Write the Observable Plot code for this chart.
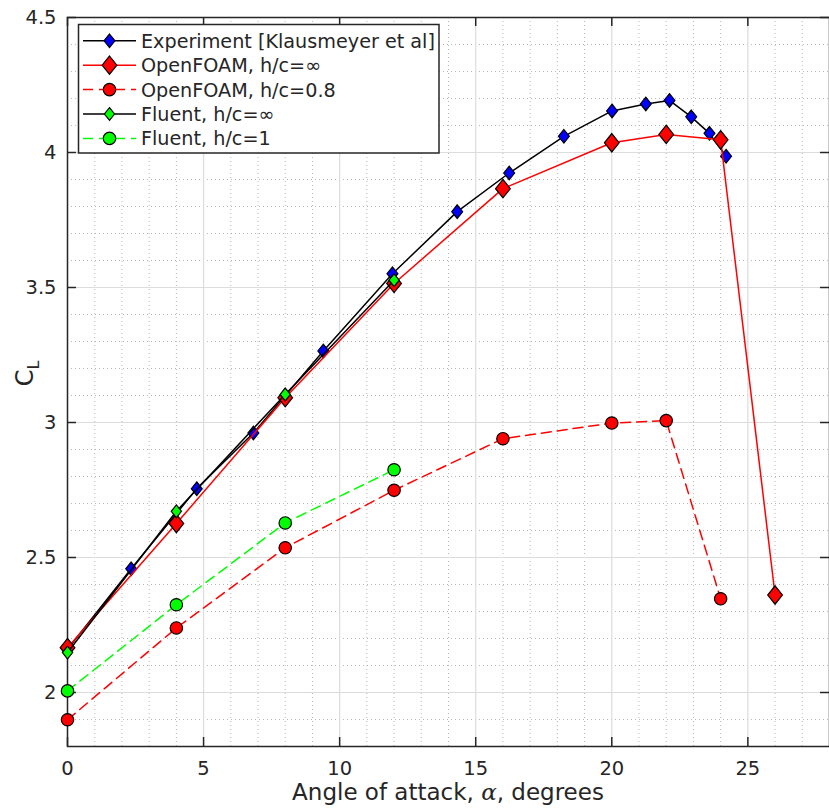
<!DOCTYPE html>
<html>
<head>
<meta charset="utf-8">
<script src="https://cdn.jsdelivr.net/npm/d3@7"></script>
<script src="https://cdn.jsdelivr.net/npm/@observablehq/plot@0.6"></script>
<style>
  html, body { margin: 0; padding: 0; background: white; }
  #chart svg { display: block; }
</style>
</head>
<body>
<div id="chart"></div>
<script>
// ---------- data ----------
const expAlpha = [0, 2.34, 4.75, 6.83, 9.40, 11.94, 14.32, 16.23, 18.24, 20.01, 21.25, 22.12, 22.92, 23.59, 24.20];
const expCL    = [2.16, 2.458, 2.755, 2.961, 3.265, 3.551, 3.781, 3.924, 4.060, 4.154, 4.180, 4.193, 4.132, 4.071, 3.986];

const ofInfAlpha = [0, 4, 8, 12, 16, 20, 22, 24, 26];
const ofInfCL    = [2.166, 2.626, 3.092, 3.515, 3.866, 4.036, 4.067, 4.047, 2.361];

const of08Alpha = [0, 4, 8, 12, 16, 20, 22, 24];
const of08CL    = [1.899, 2.239, 2.536, 2.749, 2.940, 2.998, 3.007, 2.347];

const flInfAlpha = [0, 4, 8, 12];
const flInfCL    = [2.148, 2.671, 3.104, 3.527];

const fl1Alpha = [0, 4, 8, 12];
const fl1CL    = [2.006, 2.325, 2.628, 2.825];

const seriesNames = [
  "Experiment [Klausmeyer et al]",
  "OpenFOAM, h/c=\u221E",
  "OpenFOAM, h/c=0.8",
  "Fluent, h/c=\u221E",
  "Fluent, h/c=1"
];

const xTicks = [0, 5, 10, 15, 20, 25];
const yTicks = [2, 2.5, 3, 3.5, 4, 4.5];
const xMinor = [1,2,3,4,6,7,8,9,11,12,13,14,16,17,18,19,21,22,23,24,26,27];
const yMinor = [1.9,2.1,2.2,2.3,2.4,2.6,2.7,2.8,2.9,3.1,3.2,3.3,3.4,3.6,3.7,3.8,3.9,4.1,4.2,4.3,4.4];
const xDomain = [0, 28];
const yDomain = [1.8, 4.5];

const xTitle = ["Angle of attack, ", "\u03B1", ", degrees"];
const yTitle = ["C", "L"];

// ---------- helpers ----------
const zip = (xs, ys) => xs.map((x, i) => ({x, y: ys[i]}));
const expData = zip(expAlpha, expCL);
const ofInf = zip(ofInfAlpha, ofInfCL);
const of08 = zip(of08Alpha, of08CL);
const flInf = zip(flInfAlpha, flInfCL);
const fl1 = zip(fl1Alpha, fl1CL);

// MATLAB-like diamond (slightly taller than wide)
const matDiamond = {
  draw(ctx, size) {
    const h = Math.sqrt(size / Math.PI);
    const w = h * 0.8;
    ctx.moveTo(0, -h); ctx.lineTo(w, 0); ctx.lineTo(0, h); ctx.lineTo(-w, 0); ctx.closePath();
  }
};

const W = 829, H = 811, mL = 67, mT = 17, mR = 0, mB = 65;
const pw = W - mL - mR, ph = H - mT - mB;
const axisColor = "#262626";
const RED = "#ff0000", GREEN = "#00ff00", BLUE = "#0000ff";
const DASH = "10,6";

const styles = [
  {data: expData, stroke: "black", dash: null, sym: matDiamond, r: 6.8, fill: BLUE},
  {data: ofInf, stroke: RED, dash: null, sym: matDiamond, r: 9.2, fill: RED},
  {data: of08, stroke: RED, dash: DASH, sym: "circle", r: 6.2, fill: RED},
  {data: flInf, stroke: "black", dash: null, sym: matDiamond, r: 6.4, fill: GREEN},
  {data: fl1, stroke: GREEN, dash: DASH, sym: "circle", r: 6.2, fill: GREEN}
];

const seriesMarks = styles.flatMap(s => [
  Plot.line(s.data, {x: "x", y: "y", stroke: s.stroke, strokeWidth: 1.5, strokeDasharray: s.dash || undefined}),
  Plot.dot(s.data, {x: "x", y: "y", symbol: s.sym, r: s.r, fill: s.fill, stroke: "black", strokeWidth: 1.2})
]);

const plot = Plot.plot({
  width: W, height: H,
  marginLeft: mL, marginTop: mT, marginRight: mR, marginBottom: mB,
  x: {domain: xDomain},
  y: {domain: yDomain},
  style: {fontFamily: "DejaVu Sans", color: axisColor, background: "white", overflow: "visible"},
  marks: [
    Plot.ruleX(xMinor, {x: d => d, stroke: "#b8b8b8", strokeDasharray: "1,3", strokeWidth: 1}),
    Plot.ruleY(yMinor, {y: d => d, stroke: "#b8b8b8", strokeDasharray: "1,3", strokeWidth: 1}),
    Plot.ruleX(xTicks, {x: d => d, stroke: "#dcdcdc", strokeWidth: 1.2}),
    Plot.ruleY(yTicks, {y: d => d, stroke: "#dcdcdc", strokeWidth: 1.2}),
    Plot.frame({stroke: axisColor, strokeWidth: 1.5}),
    // inward ticks
    Plot.ruleX(xTicks, {x: d => d, stroke: axisColor, strokeWidth: 1.5, insetTop: ph - 9}),
    Plot.ruleX(xTicks, {x: d => d, stroke: axisColor, strokeWidth: 1.5, insetBottom: ph - 9}),
    Plot.ruleY(yTicks, {y: d => d, stroke: axisColor, strokeWidth: 1.5, insetRight: pw - 9}),
    Plot.ruleY(yTicks, {y: d => d, stroke: axisColor, strokeWidth: 1.5, insetLeft: pw - 9}),
    Plot.axisX(xTicks, {tickSize: 0, tickPadding: 15, fontSize: 19.5, label: null, tickFormat: d => String(d), fill: axisColor}),
    Plot.axisY(yTicks, {tickSize: 0, tickPadding: 11, fontSize: 19.5, label: null, tickFormat: d => String(d), fill: axisColor}),
    ...seriesMarks
  ]
});

document.getElementById("chart").appendChild(plot);

// ---------- titles & legend ----------
const svg = d3.select(plot);
const xs = plot.scale("x"), ys = plot.scale("y");
const cx = (xs.apply(xDomain[0]) + xs.apply(xDomain[1])) / 2;
const cy = (ys.apply(yDomain[0]) + ys.apply(yDomain[1])) / 2;

const xt = svg.append("text")
  .attr("x", cx).attr("y", 800)
  .attr("text-anchor", "middle")
  .attr("font-family", "DejaVu Sans").attr("font-size", 23).attr("fill", axisColor);
xt.append("tspan").text(xTitle[0]);
xt.append("tspan").attr("font-family", "DejaVu Serif").attr("font-style", "italic").text(xTitle[1]);
xt.append("tspan").text(xTitle[2]);

const yt = svg.append("text")
  .attr("transform", `translate(33,${cy - 8}) rotate(-90)`)
  .attr("text-anchor", "middle")
  .attr("font-family", "DejaVu Sans").attr("font-size", 24).attr("fill", axisColor);
yt.append("tspan").text(yTitle[0]);
yt.append("tspan").attr("font-size", 16).attr("dy", 6).text(yTitle[1]);

// legend
const lg = svg.append("g");
const lx0 = 78.5, ly0 = 24.5, lw = 360.5, lh = 128.5;
lg.append("rect").attr("x", lx0).attr("y", ly0).attr("width", lw).attr("height", lh)
  .attr("fill", "white").attr("stroke", axisColor).attr("stroke-width", 1.5);
styles.forEach((s, i) => {
  const y = 40.8 + i * 24.4;
  lg.append("line").attr("x1", 83).attr("x2", 136).attr("y1", y).attr("y2", y)
    .attr("stroke", s.stroke).attr("stroke-width", 1.5)
    .attr("stroke-dasharray", s.dash || null);
  const symType = s.sym === "circle" ? d3.symbolCircle : s.sym;
  lg.append("path").attr("d", d3.symbol().type(symType).size(Math.PI * s.r * s.r)())
    .attr("transform", `translate(109.5,${y})`)
    .attr("fill", s.fill).attr("stroke", "black").attr("stroke-width", 1.2);
  lg.append("text").attr("x", 141).attr("y", y).attr("dy", "0.36em")
    .attr("text-anchor", "start")
    .attr("font-family", "DejaVu Sans").attr("font-size", 19.2).attr("fill", axisColor)
    .text(seriesNames[i]);
});
</script>
</body>
</html>
